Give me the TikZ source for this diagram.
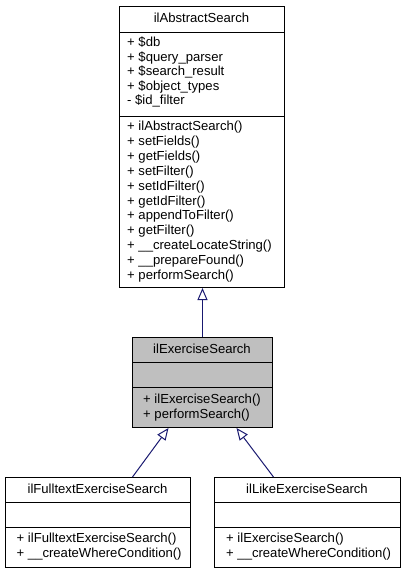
\documentclass[tikz,border=0pt]{standalone}
\usepackage{fontspec}
\setmainfont{Liberation Sans}
\usetikzlibrary{arrows.meta,calc}
\definecolor{edgeblue}{RGB}{25,25,112}
\definecolor{classgray}{RGB}{191,191,191}
\begin{document}
\begin{tikzpicture}[x=1pt,y=-1pt,
  classbox/.style={draw=black,line width=1pt,inner sep=0pt,anchor=north west},
  sepline/.style={draw=black,line width=1pt},
  txt/.style={inner sep=0pt,anchor=base west,font=\fontsize{13.1pt}{14.5pt}\selectfont},
  ttl/.style={inner sep=0pt,anchor=base,font=\fontsize{13.1pt}{14.5pt}\selectfont},
  inh/.style={draw=edgeblue,line width=1pt,-{Triangle[open,length=12pt,width=10pt,line width=1pt]}}]
\useasboundingbox (0,0) rectangle (405,573);
% ilAbstractSearch
\node[classbox,minimum width=165pt,minimum height=281pt] (abs) at (119,6) {};
\draw[sepline] (119,32) -- (284,32);
\draw[sepline] (119,116) -- (284,116);
\node[ttl] (abst) at (201.5,22) {ilAbstractSearch};
\foreach \t [count=\i] in {+ \$db,+ \$query\_parser,+ \$search\_result,+ \$object\_types,- \$id\_filter}
  \node[txt] (absa\i) at (127,{46.5+14.5*(\i-1)}) {\t};
\foreach \t [count=\i] in {+ ilAbstractSearch(),+ setFields(),+ getFields(),+ setFilter(),+ setIdFilter(),+ getIdFilter(),+ appendToFilter(),+ getFilter(),+ \_\_createLocateString(),+ \_\_prepareFound(),+ performSearch()}
  \node[txt] (absm\i) at (127,{130.5+14.9*(\i-1)}) {\t};
% ilExerciseSearch
\node[classbox,fill=classgray,minimum width=140pt,minimum height=90pt] (exer) at (132,337) {};
\draw[sepline] (132,362) -- (272,362);
\draw[sepline] (132,387) -- (272,387);
\node[ttl] (exert) at (202,353) {ilExerciseSearch};
\node[txt] (exerm1) at (143,403) {+ ilExerciseSearch()};
\node[txt] (exerm2) at (143,418) {+ performSearch()};
% ilFulltextExerciseSearch
\node[classbox,minimum width=185pt,minimum height=90pt] (full) at (5,477) {};
\draw[sepline] (5,502) -- (190,502);
\draw[sepline] (5,527) -- (190,527);
\node[ttl] (fullt) at (97.5,493) {ilFulltextExerciseSearch};
\node[txt] (fullm1) at (16.5,542.5) {+ ilFulltextExerciseSearch()};
\node[txt] (fullm2) at (16.5,557.5) {+ \_\_createWhereCondition()};
% ilLikeExerciseSearch
\node[classbox,minimum width=186pt,minimum height=90pt] (like) at (214,477) {};
\draw[sepline] (214,502) -- (400,502);
\draw[sepline] (214,527) -- (400,527);
\node[ttl] (liket) at (307,493) {ilLikeExerciseSearch};
\node[txt] (likem1) at (226,542.5) {+ ilExerciseSearch()};
\node[txt] (likem2) at (226,557.5) {+ \_\_createWhereCondition()};
% inheritance
\draw[inh] (exer.north) -- (exer.north |- abs.south);
\draw[inh] ([xshift=34.5pt]full.north) -- ([xshift=-34pt]exer.south);
\draw[inh] ([xshift=-34pt]like.north) -- ([xshift=34pt]exer.south);
\end{tikzpicture}
\end{document}
